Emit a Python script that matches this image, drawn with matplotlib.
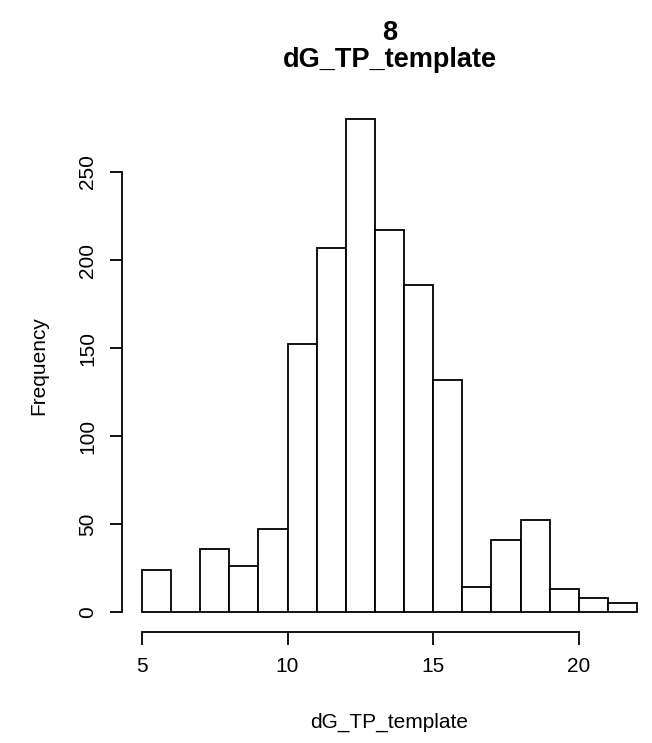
import numpy as np
import matplotlib.pyplot as plt

plt.rcParams['font.family'] = ['Liberation Sans', 'DejaVu Sans']

# histogram breaks and counts
breaks = np.arange(5, 23, 1)
counts = [24, 0, 36, 26, 47, 152, 207, 280, 217, 186, 132, 14, 41, 52, 13, 8, 5]
x_ticks = [5, 10, 15, 20]
y_ticks = [0, 50, 100, 150, 200, 250]
title_lines = ['8', 'dG_TP_template']

fig = plt.figure(figsize=(6.52, 7.43), dpi=100)
W, H = 652, 743
left, right, top, bottom = 122, 657, 99.5, 631.7
ax = fig.add_axes([left / W, 1 - bottom / H, (right - left) / W, (bottom - top) / H])

ax.bar(breaks[:-1], counts, width=np.diff(breaks), align='edge',
       facecolor='white', edgecolor='black', linewidth=1.3)

span = breaks[-1] - breaks[0]
ax.set_xlim(breaks[0] - 0.04 * span, breaks[-1] + 0.04 * span)
ymax = max(counts)
ax.set_ylim(-0.04 * ymax, ymax * 1.04)

# R-like axes: no box, axis lines only across the tick range
for s in ['top', 'right']:
    ax.spines[s].set_visible(False)
ax.spines['left'].set_bounds(y_ticks[0], y_ticks[-1])
ax.spines['bottom'].set_bounds(x_ticks[0], x_ticks[-1])
for s in ['left', 'bottom']:
    ax.spines[s].set_linewidth(1.3)

ax.set_xticks(x_ticks)
ax.set_yticks(y_ticks)
ax.set_yticklabels([str(v) for v in y_ticks], rotation=90, va='center')
ax.tick_params(length=9, width=1.3, labelsize=15, pad=9)

ax.set_xlabel('dG_TP_template', fontsize=15)
ax.set_ylabel('Frequency', fontsize=15)
ax.xaxis.set_label_coords(0.5, -(713 - bottom) / (bottom - top))
ax.yaxis.set_label_coords((48 - left) / (right - left), 0.5)

xc = (left + right) / 2 / W
fig.text(xc, 1 - 40 / H, title_lines[0], ha='center', va='baseline',
         fontsize=19.5, fontweight='bold')
fig.text(xc, 1 - 67 / H, title_lines[1], ha='center', va='baseline',
         fontsize=19.5, fontweight='bold')

fig.savefig('out.png', dpi=100)
